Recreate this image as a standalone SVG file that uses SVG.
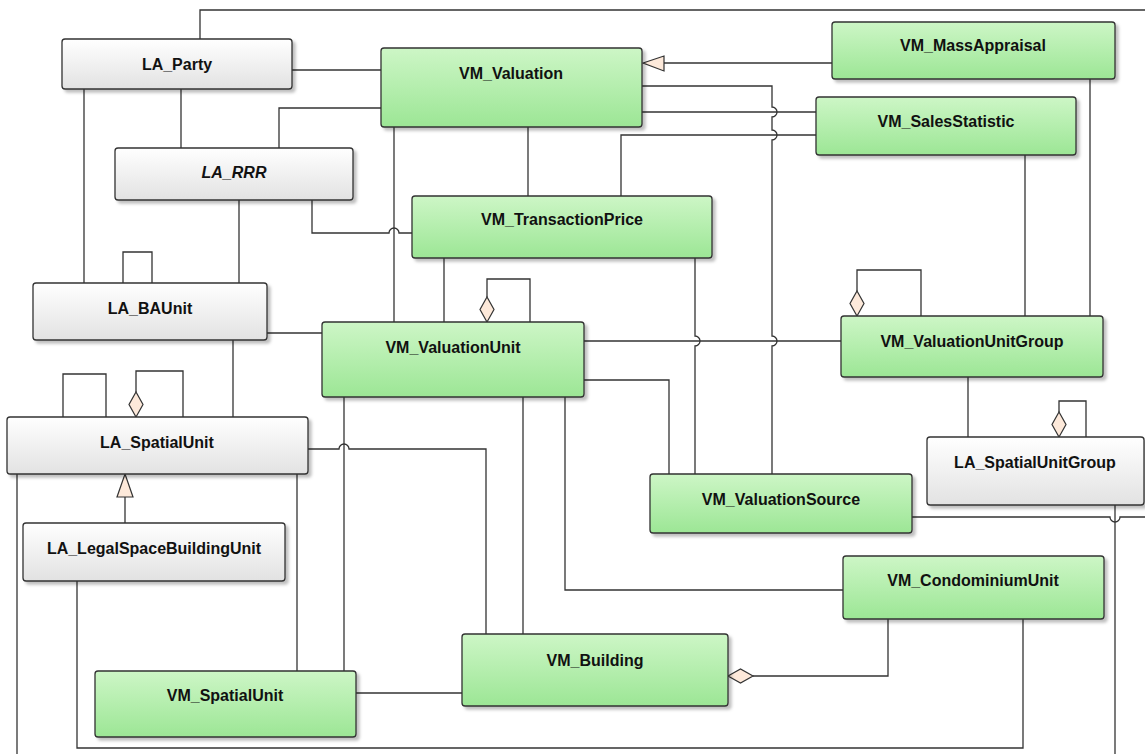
<svg xmlns="http://www.w3.org/2000/svg" width="1145" height="754" viewBox="0 0 1145 754">
<defs>
<linearGradient id="gGreen" x1="0" y1="0" x2="0" y2="1">
<stop offset="0" stop-color="#cdf6c6"/>
<stop offset="1" stop-color="#9ce695"/>
</linearGradient>
<linearGradient id="gGray" x1="0" y1="0" x2="0" y2="1">
<stop offset="0" stop-color="#ffffff"/>
<stop offset="1" stop-color="#e2e2e2"/>
</linearGradient>
<filter id="sh" x="-10%" y="-20%" width="130%" height="150%">
<feDropShadow dx="3" dy="3" stdDeviation="1.5" flood-color="#000" flood-opacity="0.25"/>
</filter>
</defs>
<style>
.n rect{stroke:#333;stroke-width:1.3;filter:url(#sh)}
.g rect{fill:url(#gGreen)}
.w rect{fill:url(#gGray)}
text{font-family:"Liberation Sans",Arial,sans-serif;font-weight:bold;font-size:16px;fill:#111;text-anchor:middle}
.c path{fill:none;stroke:#333;stroke-width:1.3}
.c polygon{fill:#fde9da;stroke:#333;stroke-width:1.2}
</style>
<rect width="1145" height="754" fill="#fff"/>
<g class="c" id="connectors">
<path d="M912,517 H1110 A5 5 0 0 0 1120 517 H1150 V10 H200 V39"/>
<path d="M292,70 H381"/>
<path d="M181,89 V148"/>
<path d="M84,89 V283"/>
<path d="M381,108 H279 V148"/>
<path d="M312,200 V233 H389 A5 5 0 0 1 399 233 H412"/>
<path d="M239,200 V283"/>
<path d="M123,283 V252 H152 V283"/>
<path d="M394,127 V322"/>
<path d="M528,127 V196"/>
<path d="M642,86 H772 V107 A5 5 0 0 1 772 117 V130 A5 5 0 0 1 772 140 V336 A5 5 0 0 1 772 346 V474"/>
<path d="M642,112 H816"/>
<path d="M621,196 V135 H816"/>
<path d="M664,63 H832"/>
<polygon points="643,63 664,56 664,71"/>
<path d="M1090,79 V316"/>
<path d="M1025,155 V316"/>
<path d="M444,258 V322"/>
<path d="M695,258 V336 A5 5 0 0 1 695 346 V474"/>
<path d="M487,297 V279 H530 V322"/>
<polygon points="487,322 494,309.5 487,297 480,309.5"/>
<path d="M584,341 H841"/>
<path d="M584,380 H669 V474"/>
<path d="M267,333 H322"/>
<path d="M233,340 V417"/>
<path d="M63,417 V374 H106 V417"/>
<path d="M136,392 V371 H183 V417"/>
<polygon points="136,417 143,404.5 136,392 129,404.5"/>
<path d="M125,497 V523"/>
<polygon points="125,474 133,497 117,497"/>
<path d="M308,449 H339 A5 5 0 0 1 349 449 H486 V634"/>
<path d="M344,397 V671"/>
<path d="M297,474 V671"/>
<path d="M17,474 V760"/>
<path d="M523,397 V634"/>
<path d="M565,397 V590 H843"/>
<path d="M356,693 H462"/>
<path d="M753,676 H888 V619"/>
<polygon points="728,676 740.5,669 753,676 740.5,683"/>
<path d="M77,581 V748 H1023 V619"/>
<path d="M857,291 V270 H921 V316"/>
<polygon points="857,316 864,303.5 857,291 850,303.5"/>
<path d="M968,377 V437"/>
<path d="M1059,412 V401 H1086 V437"/>
<polygon points="1059,437 1066,424.5 1059,412 1052,424.5"/>
<path d="M1115,505 V760"/>
</g>
<g id="LA_Party" class="n w"><rect x="62" y="39" width="230" height="50" rx="3"/><text x="177" y="70">LA_Party</text></g>
<g id="LA_RRR" class="n w"><rect x="115" y="148" width="238" height="52" rx="3"/><text x="234" y="178" font-style="italic">LA_RRR</text></g>
<g id="VM_Valuation" class="n g"><rect x="381" y="48" width="261" height="79" rx="3"/><text x="511" y="79">VM_Valuation</text></g>
<g id="VM_TransactionPrice" class="n g"><rect x="412" y="196" width="300" height="62" rx="3"/><text x="562" y="225">VM_TransactionPrice</text></g>
<g id="VM_MassAppraisal" class="n g"><rect x="832" y="22" width="283" height="57" rx="3"/><text x="973" y="51">VM_MassAppraisal</text></g>
<g id="VM_SalesStatistic" class="n g"><rect x="816" y="97" width="260" height="58" rx="3"/><text x="946" y="127">VM_SalesStatistic</text></g>
<g id="LA_BAUnit" class="n w"><rect x="33" y="283" width="234" height="57" rx="3"/><text x="150" y="314">LA_BAUnit</text></g>
<g id="VM_ValuationUnit" class="n g"><rect x="322" y="322" width="262" height="75" rx="3"/><text x="453" y="353">VM_ValuationUnit</text></g>
<g id="VM_ValuationUnitGroup" class="n g"><rect x="841" y="316" width="262" height="61" rx="3"/><text x="972" y="347">VM_ValuationUnitGroup</text></g>
<g id="LA_SpatialUnit" class="n w"><rect x="7" y="417" width="301" height="57" rx="3"/><text x="157" y="448">LA_SpatialUnit</text></g>
<g id="LA_SpatialUnitGroup" class="n w"><rect x="927" y="437" width="217" height="68" rx="3"/><text x="1035" y="468">LA_SpatialUnitGroup</text></g>
<g id="VM_ValuationSource" class="n g"><rect x="650" y="474" width="262" height="59" rx="3"/><text x="781" y="505">VM_ValuationSource</text></g>
<g id="LA_LegalSpaceBuildingUnit" class="n w"><rect x="23" y="523" width="262" height="58" rx="3"/><text x="154" y="554">LA_LegalSpaceBuildingUnit</text></g>
<g id="VM_CondominiumUnit" class="n g"><rect x="843" y="556" width="261" height="63" rx="3"/><text x="973" y="586">VM_CondominiumUnit</text></g>
<g id="VM_Building" class="n g"><rect x="462" y="634" width="266" height="72" rx="3"/><text x="595" y="666">VM_Building</text></g>
<g id="VM_SpatialUnit" class="n g"><rect x="95" y="671" width="261" height="66" rx="3"/><text x="225" y="701">VM_SpatialUnit</text></g>
</svg>
